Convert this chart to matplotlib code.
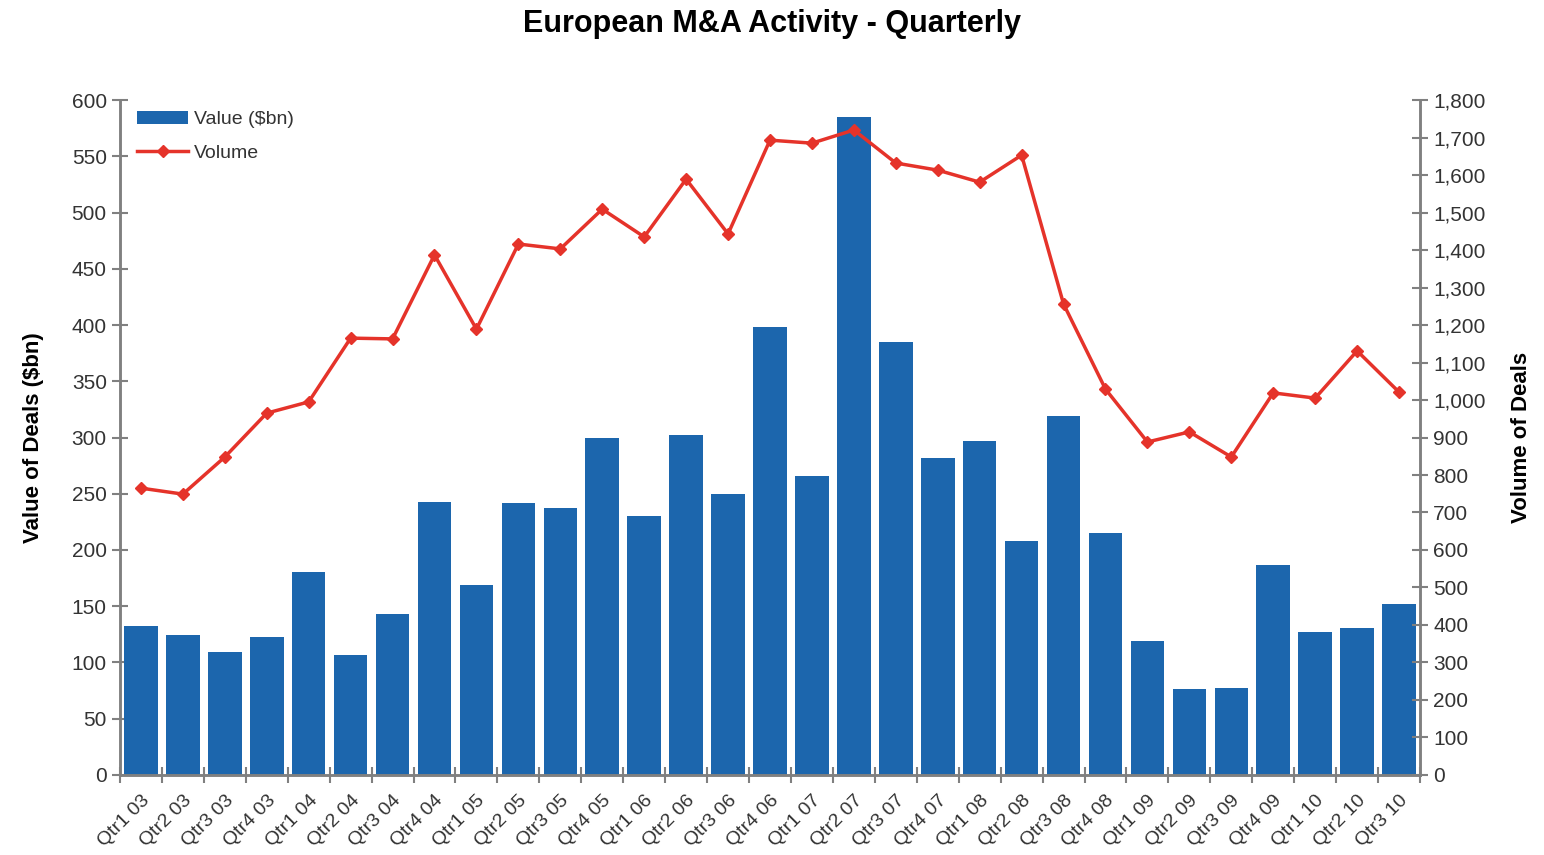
import numpy as np
import matplotlib.pyplot as plt
from matplotlib.ticker import FuncFormatter

plt.rcParams['font.family'] = ['Liberation Sans', 'DejaVu Sans']

# datos
quarters = ['Qtr1 03', 'Qtr2 03', 'Qtr3 03', 'Qtr4 03',
            'Qtr1 04', 'Qtr2 04', 'Qtr3 04', 'Qtr4 04',
            'Qtr1 05', 'Qtr2 05', 'Qtr3 05', 'Qtr4 05',
            'Qtr1 06', 'Qtr2 06', 'Qtr3 06', 'Qtr4 06',
            'Qtr1 07', 'Qtr2 07', 'Qtr3 07', 'Qtr4 07',
            'Qtr1 08', 'Qtr2 08', 'Qtr3 08', 'Qtr4 08',
            'Qtr1 09', 'Qtr2 09', 'Qtr3 09', 'Qtr4 09',
            'Qtr1 10', 'Qtr2 10', 'Qtr3 10']
value_bn = [132, 124, 109, 123, 180, 107, 143, 243, 169, 242, 237, 300,
            230, 302, 250, 398, 266, 585, 385, 282, 297, 208, 319, 215,
            119, 76, 77, 187, 127, 131, 152]
volume = [765, 749, 848, 965, 995, 1165, 1163, 1387, 1189, 1416, 1403, 1509,
          1435, 1589, 1443, 1693, 1685, 1720, 1632, 1613, 1581, 1653, 1256, 1029,
          888, 915, 848, 1019, 1005, 1131, 1021]

bar_color = '#1c66ad'
line_color = '#e5332a'
axis_color = '#808080'
text_color = '#333333'

fig = plt.figure(figsize=(15.44, 8.55), dpi=100)
ax = fig.add_axes([0.0777, 0.0936, 0.842, 0.7894])
ax2 = ax.twinx()

x = np.arange(len(quarters))
ax.bar(x, value_bn, width=0.8, color=bar_color, label='Value ($bn)', zorder=2)
ax2.plot(x, volume, color=line_color, lw=2.5, marker='D', ms=6,
         label='Volume', zorder=3)

ax.set_xlim(-0.5, len(quarters) - 0.5)
ax.set_ylim(0, 600)
ax2.set_ylim(0, 1800)
ax.set_yticks(np.arange(0, 601, 50))
ax2.set_yticks(np.arange(0, 1801, 100))
ax2.yaxis.set_major_formatter(FuncFormatter(lambda v, p: f'{int(v):,}'))

# ticks del eje x en los bordes de cada categoria
ax.set_xticks(np.arange(-0.5, len(quarters), 1.0))
ax.set_xticklabels([])
ax.set_xticks(x, minor=True)
ax.set_xticklabels(quarters, minor=True, rotation=45, ha='right',
                   rotation_mode='anchor', fontsize=14, color=text_color)
ax.tick_params(axis='x', which='minor', length=0, pad=12)
ax.tick_params(axis='x', which='major', direction='inout', length=12,
               width=1.5, color=axis_color)
ax.tick_params(axis='y', direction='inout', length=12, width=1.5,
               color=axis_color, labelsize=15, labelcolor=text_color)
ax2.tick_params(axis='y', direction='inout', length=12, width=1.5,
                color=axis_color, labelsize=15, labelcolor=text_color)

for a in (ax, ax2):
    a.spines['top'].set_visible(False)
    for s in ('left', 'right', 'bottom'):
        a.spines[s].set_color(axis_color)
        a.spines[s].set_linewidth(1.8)

ax.set_ylabel('Value of Deals ($bn)', fontsize=16, fontweight='bold',
              labelpad=20)
ax2.set_ylabel('Volume of Deals', fontsize=16, fontweight='bold',
               labelpad=18)
fig.text(0.5, 0.972, 'European M&A Activity - Quarterly', ha='center',
         va='center', fontsize=22, fontweight='bold')

h1, l1 = ax.get_legend_handles_labels()
h2, l2 = ax2.get_legend_handles_labels()
ax2.legend(h1 + h2, l1 + l2, loc='upper left', bbox_to_anchor=(0.0, 1.01),
           frameon=False, fontsize=14, handlelength=2.6, handletextpad=0.3,
           labelspacing=0.8, labelcolor=text_color)

fig.savefig('out.png', dpi=100)
